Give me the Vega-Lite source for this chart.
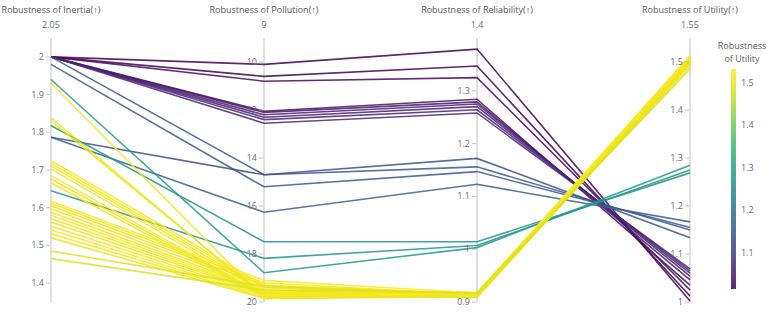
{
  "$schema": "https://vega.github.io/schema/vega-lite/v6.json",
  "width": 639,
  "height": 264,
  "autosize": {"type": "none"},
  "padding": {"left": 51, "top": 38, "right": 78, "bottom": 21},
  "background": "white",
  "config": {"view": {"stroke": null}, "font": "Open Sans"},
  "datasets": {
    "axes": [
      {"key": "inertia", "min": 1.35, "max": 2.05, "rev": false, "top": "2.05", "title": "Robustness of Inertia(↑)"},
      {"key": "pollution", "min": 9, "max": 20, "rev": true, "top": "9", "title": "Robustness of Pollution(↑)"},
      {"key": "reliability", "min": 0.9, "max": 1.4, "rev": false, "top": "1.4", "title": "Robustness of Reliability(↑)"},
      {"key": "utility", "min": 1.0, "max": 1.55, "rev": false, "top": "1.55", "title": "Robustness of Utility(↑)"}
    ],
    "ticks": [
      {"key": "inertia", "value": 2.0, "label": "2"},
      {"key": "inertia", "value": 1.9, "label": "1.9"},
      {"key": "inertia", "value": 1.8, "label": "1.8"},
      {"key": "inertia", "value": 1.7, "label": "1.7"},
      {"key": "inertia", "value": 1.6, "label": "1.6"},
      {"key": "inertia", "value": 1.5, "label": "1.5"},
      {"key": "inertia", "value": 1.4, "label": "1.4"},
      {"key": "pollution", "value": 10, "label": "10"},
      {"key": "pollution", "value": 12, "label": "12"},
      {"key": "pollution", "value": 14, "label": "14"},
      {"key": "pollution", "value": 16, "label": "16"},
      {"key": "pollution", "value": 18, "label": "18"},
      {"key": "pollution", "value": 20, "label": "20"},
      {"key": "reliability", "value": 1.3, "label": "1.3"},
      {"key": "reliability", "value": 1.2, "label": "1.2"},
      {"key": "reliability", "value": 1.1, "label": "1.1"},
      {"key": "reliability", "value": 1.0, "label": "1"},
      {"key": "reliability", "value": 0.9, "label": "0.9"},
      {"key": "utility", "value": 1.5, "label": "1.5"},
      {"key": "utility", "value": 1.4, "label": "1.4"},
      {"key": "utility", "value": 1.3, "label": "1.3"},
      {"key": "utility", "value": 1.2, "label": "1.2"},
      {"key": "utility", "value": 1.1, "label": "1.1"},
      {"key": "utility", "value": 1.0, "label": "1"}
    ],
    "rows": [
      {"id": "01", "inertia": 2.0, "pollution": 10.1, "reliability": 1.379, "utility": 1.002},
      {"id": "02", "inertia": 2.0, "pollution": 10.6, "reliability": 1.347, "utility": 1.0125},
      {"id": "03", "inertia": 2.0, "pollution": 10.8, "reliability": 1.325, "utility": 1.025},
      {"id": "04", "inertia": 2.0, "pollution": 12.05, "reliability": 1.284, "utility": 1.035},
      {"id": "05", "inertia": 2.0, "pollution": 12.1, "reliability": 1.279, "utility": 1.046},
      {"id": "06", "inertia": 2.0, "pollution": 12.2, "reliability": 1.275, "utility": 1.054},
      {"id": "07", "inertia": 2.0, "pollution": 12.3, "reliability": 1.27, "utility": 1.06},
      {"id": "08", "inertia": 2.0, "pollution": 12.4, "reliability": 1.264, "utility": 1.065},
      {"id": "09", "inertia": 2.0, "pollution": 12.55, "reliability": 1.258, "utility": 1.069},
      {"id": "10", "inertia": 2.0, "pollution": 14.7, "reliability": 1.156, "utility": 1.15},
      {"id": "11", "inertia": 1.98, "pollution": 15.2, "reliability": 1.147, "utility": 1.155},
      {"id": "12", "inertia": 1.787, "pollution": 14.7, "reliability": 1.172, "utility": 1.134},
      {"id": "13", "inertia": 1.787, "pollution": 16.26, "reliability": 1.123, "utility": 1.167},
      {"id": "14", "inertia": 1.818, "pollution": 17.49, "reliability": 1.014, "utility": 1.269},
      {"id": "15", "inertia": 1.645, "pollution": 18.18, "reliability": 1.007, "utility": 1.275},
      {"id": "16", "inertia": 1.94, "pollution": 18.78, "reliability": 1.003, "utility": 1.285},
      {"id": "17", "inertia": 1.93, "pollution": 19.85, "reliability": 0.912, "utility": 1.505},
      {"id": "18", "inertia": 1.838, "pollution": 19.8, "reliability": 0.914, "utility": 1.5},
      {"id": "19", "inertia": 1.83, "pollution": 19.75, "reliability": 0.91, "utility": 1.498},
      {"id": "20", "inertia": 1.725, "pollution": 19.3, "reliability": 0.916, "utility": 1.51},
      {"id": "21", "inertia": 1.718, "pollution": 19.4, "reliability": 0.913, "utility": 1.507},
      {"id": "22", "inertia": 1.711, "pollution": 19.5, "reliability": 0.911, "utility": 1.503},
      {"id": "23", "inertia": 1.703, "pollution": 19.6, "reliability": 0.915, "utility": 1.509},
      {"id": "24", "inertia": 1.685, "pollution": 19.7, "reliability": 0.912, "utility": 1.512},
      {"id": "25", "inertia": 1.676, "pollution": 19.75, "reliability": 0.909, "utility": 1.496},
      {"id": "26", "inertia": 1.666, "pollution": 19.8, "reliability": 0.914, "utility": 1.501},
      {"id": "27", "inertia": 1.617, "pollution": 19.1, "reliability": 0.917, "utility": 1.513},
      {"id": "28", "inertia": 1.612, "pollution": 19.2, "reliability": 0.913, "utility": 1.506},
      {"id": "29", "inertia": 1.605, "pollution": 19.3, "reliability": 0.91, "utility": 1.499},
      {"id": "30", "inertia": 1.597, "pollution": 19.4, "reliability": 0.915, "utility": 1.508},
      {"id": "31", "inertia": 1.588, "pollution": 19.5, "reliability": 0.912, "utility": 1.504},
      {"id": "32", "inertia": 1.58, "pollution": 19.55, "reliability": 0.911, "utility": 1.511},
      {"id": "33", "inertia": 1.571, "pollution": 19.6, "reliability": 0.914, "utility": 1.502},
      {"id": "34", "inertia": 1.562, "pollution": 19.65, "reliability": 0.909, "utility": 1.497},
      {"id": "35", "inertia": 1.551, "pollution": 19.7, "reliability": 0.913, "utility": 1.506},
      {"id": "36", "inertia": 1.541, "pollution": 19.75, "reliability": 0.916, "utility": 1.51},
      {"id": "37", "inertia": 1.531, "pollution": 19.8, "reliability": 0.912, "utility": 1.503},
      {"id": "38", "inertia": 1.52, "pollution": 19.85, "reliability": 0.91, "utility": 1.5},
      {"id": "39", "inertia": 1.485, "pollution": 19.35, "reliability": 0.915, "utility": 1.49},
      {"id": "40", "inertia": 1.465, "pollution": 19.5, "reliability": 0.918, "utility": 1.485}
    ]
  },
  "encoding": {
    "x": {"field": "key", "type": "nominal", "scale": {"type": "point", "domain": ["inertia", "pollution", "reliability", "utility"], "padding": 0}, "axis": null}
  },
  "layer": [
    {
      "data": {"name": "axes"},
      "mark": {"type": "rule", "color": "#d6d6d6", "strokeWidth": 1.5},
      "encoding": {
        "y": {"datum": 0, "type": "quantitative", "scale": {"domain": [0, 1]}, "axis": null},
        "y2": {"datum": 1}
      }
    },
    {
      "data": {"name": "rows"},
      "transform": [
        {"fold": ["inertia", "pollution", "reliability", "utility"], "as": ["key", "value"]},
        {"lookup": "key", "from": {"data": {"name": "axes"}, "key": "key", "fields": ["min", "max", "rev"]}},
        {"calculate": "datum.rev ? (datum.max - datum.value) / (datum.max - datum.min) : (datum.value - datum.min) / (datum.max - datum.min)", "as": "norm"}
      ],
      "mark": {"type": "line", "strokeWidth": 1.6, "opacity": 0.85},
      "encoding": {
        "y": {"field": "norm", "type": "quantitative", "scale": {"domain": [0, 1]}, "axis": null},
        "detail": {"field": "id"},
        "order": {"field": "key"},
        "color": {
          "field": "utility",
          "type": "quantitative",
          "scale": {"scheme": {"name": "viridis", "extent": [0, 1.04]}, "domain": [1.014, 1.533], "clamp": true},
          "legend": {
            "orient": "none",
            "legendX": 667,
            "legendY": 4,
            "title": ["Robustness", "of Utility"],
            "titleFontSize": 9,
            "titleFontWeight": "normal",
            "titleColor": "#5a5a5a",
            "titleAlign": "center",
            "titleAnchor": "middle",
            "titleLineHeight": 13,
            "titlePadding": 5,
            "direction": "vertical",
            "gradientLength": 220,
            "gradientThickness": 5,
            "gradientStrokeWidth": 0,
            "values": [1.1, 1.2, 1.3, 1.4, 1.5],
            "labelFontSize": 9,
            "labelColor": "#666e7a",
            "labelOffset": 5,
            "tickCount": 5
          }
        }
      }
    },
    {
      "data": {"name": "ticks"},
      "transform": [
        {"lookup": "key", "from": {"data": {"name": "axes"}, "key": "key", "fields": ["min", "max", "rev"]}},
        {"calculate": "datum.rev ? (datum.max - datum.value) / (datum.max - datum.min) : (datum.value - datum.min) / (datum.max - datum.min)", "as": "norm"}
      ],
      "mark": {"type": "tick", "size": 4, "thickness": 1, "color": "#aaaaaa", "xOffset": -3},
      "encoding": {
        "y": {"field": "norm", "type": "quantitative", "scale": {"domain": [0, 1]}, "axis": null}
      }
    },
    {
      "data": {"name": "ticks"},
      "transform": [
        {"lookup": "key", "from": {"data": {"name": "axes"}, "key": "key", "fields": ["min", "max", "rev"]}},
        {"calculate": "datum.rev ? (datum.max - datum.value) / (datum.max - datum.min) : (datum.value - datum.min) / (datum.max - datum.min)", "as": "norm"}
      ],
      "mark": {"type": "text", "align": "right", "baseline": "middle", "dx": -7, "fontSize": 9, "color": "#666e7a"},
      "encoding": {
        "y": {"field": "norm", "type": "quantitative", "scale": {"domain": [0, 1]}, "axis": null},
        "text": {"field": "label"}
      }
    },
    {
      "data": {"name": "axes"},
      "mark": {"type": "text", "align": "center", "baseline": "middle", "dy": -13, "fontSize": 9, "color": "#666e7a"},
      "encoding": {
        "y": {"datum": 1, "type": "quantitative"},
        "text": {"field": "top"}
      }
    },
    {
      "data": {"name": "axes"},
      "mark": {"type": "text", "align": "center", "baseline": "middle", "dy": -28, "fontSize": 9, "color": "#555555"},
      "encoding": {
        "y": {"datum": 1, "type": "quantitative"},
        "text": {"field": "title"}
      }
    }
  ]
}
